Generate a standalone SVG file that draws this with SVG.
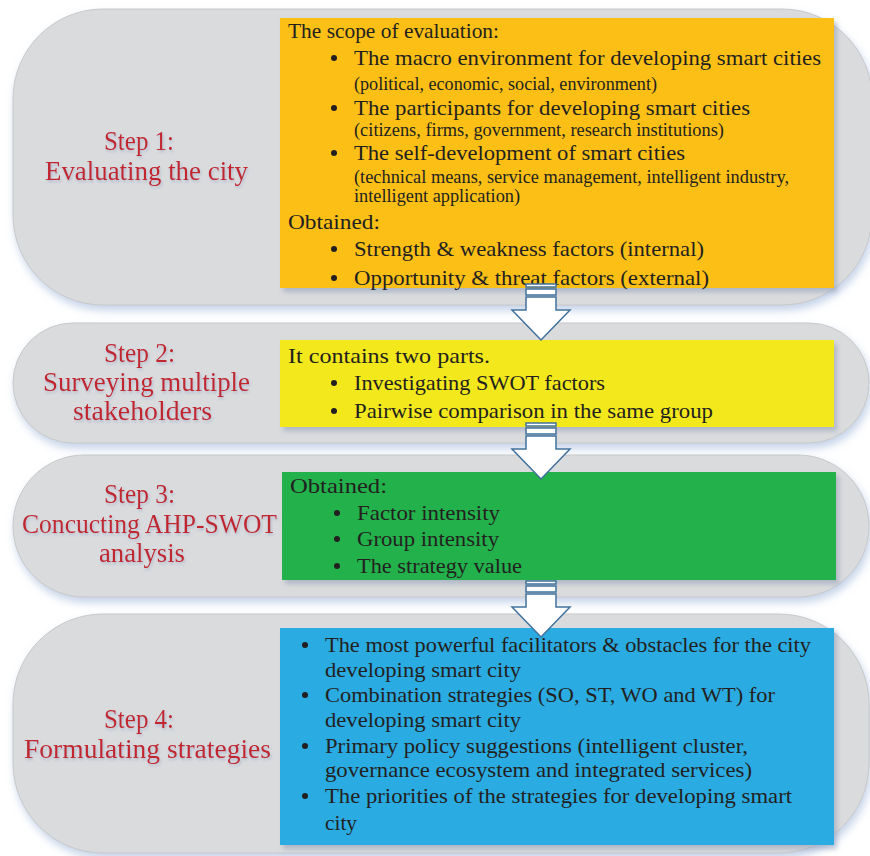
<svg xmlns="http://www.w3.org/2000/svg" width="870" height="856" viewBox="0 0 870 856">
<defs>
<filter id="pshadow" x="-5%" y="-10%" width="110%" height="125%">
<feDropShadow dx="2" dy="5" stdDeviation="4" flood-color="#9fb6da" flood-opacity="0.6"/>
</filter>
<filter id="bshadow" x="-5%" y="-5%" width="110%" height="115%">
<feDropShadow dx="3" dy="4" stdDeviation="2.5" flood-color="#8a9ab5" flood-opacity="0.55"/>
</filter>
<filter id="tshadow" x="-10%" y="-20%" width="120%" height="150%">
<feDropShadow dx="1" dy="2" stdDeviation="1.5" flood-color="#8fa2c4" flood-opacity="0.6"/>
</filter>
<g id="arrow">
<rect x="526" y="0" width="30" height="3" class="arr"/>
<rect x="526" y="5" width="30" height="6" class="arr"/>
<path d="M526,13 H556 V26 H570 L541,56 L512,26 H526 Z" class="arr"/>
</g>
</defs>
<style>
.panel{fill:#dadbdd;stroke:#c7c8ca;stroke-width:1;filter:url(#pshadow)}
.box{filter:url(#bshadow)}
.lbl{font-family:"Liberation Serif","Times New Roman",serif;font-size:27px;fill:#c1272d;filter:url(#tshadow)}
.t{font-family:"Liberation Serif","Times New Roman",serif;font-size:22px;fill:#231f20}
.s{font-family:"Liberation Serif","Times New Roman",serif;font-size:18px;fill:#231f20}
.b{font-family:"Liberation Serif","Times New Roman",serif;font-size:22px;fill:#231f20}
.arr{fill:#ffffff;stroke:#41719c;stroke-width:1.5;stroke-linejoin:miter}
</style>

<g id="step1">
<rect class="panel" x="13" y="9" width="859" height="296" rx="90" ry="90"/>
<text class="lbl" x="104" y="150" textLength="70" lengthAdjust="spacingAndGlyphs">Step 1:</text>
<text class="lbl" x="45" y="180" textLength="203" lengthAdjust="spacingAndGlyphs">Evaluating the city</text>
<rect class="box" x="280" y="18" width="554" height="270" fill="#fbbf12"/>
<text class="t" x="288" y="38" textLength="211" lengthAdjust="spacingAndGlyphs">The scope of evaluation:</text>
<circle cx="334" cy="58" r="3" fill="#231f20"/>
<text class="t" x="354" y="65" textLength="467" lengthAdjust="spacingAndGlyphs">The macro environment for developing smart cities</text>
<text class="s" x="354" y="90" textLength="303" lengthAdjust="spacingAndGlyphs">(political, economic, social, environment)</text>
<circle cx="334" cy="108" r="3" fill="#231f20"/>
<text class="t" x="354" y="115" textLength="396" lengthAdjust="spacingAndGlyphs">The participants for developing smart cities</text>
<text class="s" x="354" y="136" textLength="370" lengthAdjust="spacingAndGlyphs">(citizens, firms, government, research institutions)</text>
<circle cx="334" cy="153" r="3" fill="#231f20"/>
<text class="t" x="354" y="160" textLength="331" lengthAdjust="spacingAndGlyphs">The self-development of smart cities</text>
<text class="s" x="354" y="183" textLength="435" lengthAdjust="spacingAndGlyphs">(technical means, service management, intelligent industry,</text>
<text class="s" x="354" y="202" textLength="166" lengthAdjust="spacingAndGlyphs">intelligent application)</text>
<text class="t" x="288" y="229" textLength="92" lengthAdjust="spacingAndGlyphs">Obtained:</text>
<circle cx="334" cy="249" r="3" fill="#231f20"/>
<text class="t" x="354" y="256" textLength="350" lengthAdjust="spacingAndGlyphs">Strength &amp; weakness factors (internal)</text>
<circle cx="334" cy="278" r="3" fill="#231f20"/>
<text class="t" x="354" y="285" textLength="355" lengthAdjust="spacingAndGlyphs">Opportunity &amp; threat factors (external)</text>
</g>

<g id="step2">
<rect class="panel" x="13" y="323" width="856" height="120" rx="60" ry="60"/>
<text class="lbl" x="104" y="362" textLength="71" lengthAdjust="spacingAndGlyphs">Step 2:</text>
<text class="lbl" x="43" y="391" textLength="207" lengthAdjust="spacingAndGlyphs">Surveying multiple</text>
<text class="lbl" x="73" y="420" textLength="139" lengthAdjust="spacingAndGlyphs">stakeholders</text>
<rect class="box" x="280" y="340" width="554" height="87" fill="#f2e81a"/>
<text class="t" x="288" y="363" textLength="202" lengthAdjust="spacingAndGlyphs">It contains two parts.</text>
<circle cx="334" cy="383" r="3" fill="#231f20"/>
<text class="t" x="354" y="390" textLength="251" lengthAdjust="spacingAndGlyphs">Investigating SWOT factors</text>
<circle cx="334" cy="411" r="3" fill="#231f20"/>
<text class="t" x="354" y="418" textLength="359" lengthAdjust="spacingAndGlyphs">Pairwise comparison in the same group</text>
</g>

<g id="step3">
<rect class="panel" x="13" y="455" width="856" height="142" rx="71" ry="71"/>
<text class="lbl" x="104" y="503" textLength="71" lengthAdjust="spacingAndGlyphs">Step 3:</text>
<text class="lbl" x="22" y="533" textLength="255" lengthAdjust="spacingAndGlyphs">Concucting AHP-SWOT</text>
<text class="lbl" x="99" y="562" textLength="86" lengthAdjust="spacingAndGlyphs">analysis</text>
<rect class="box" x="282" y="472" width="554" height="108" fill="#21b14c"/>
<text class="t" x="290" y="493" textLength="97" lengthAdjust="spacingAndGlyphs">Obtained:</text>
<circle cx="337" cy="513" r="3" fill="#231f20"/>
<text class="t" x="357" y="520" textLength="143" lengthAdjust="spacingAndGlyphs">Factor intensity</text>
<circle cx="337" cy="539" r="3" fill="#231f20"/>
<text class="t" x="357" y="546" textLength="142" lengthAdjust="spacingAndGlyphs">Group intensity</text>
<circle cx="337" cy="566" r="3" fill="#231f20"/>
<text class="t" x="357" y="573" textLength="165" lengthAdjust="spacingAndGlyphs">The strategy value</text>
</g>

<g id="step4">
<rect class="panel" x="13" y="614" width="856" height="239" rx="90" ry="90"/>
<text class="lbl" x="104" y="728" textLength="70" lengthAdjust="spacingAndGlyphs">Step 4:</text>
<text class="lbl" x="24" y="758" textLength="247" lengthAdjust="spacingAndGlyphs">Formulating strategies</text>
<rect class="box" x="280" y="628" width="554" height="217" fill="#29abe2"/>
<circle cx="305" cy="645" r="3" fill="#231f20"/>
<text class="t" x="325" y="652" textLength="486" lengthAdjust="spacingAndGlyphs">The most powerful facilitators &amp; obstacles for the city</text>
<text class="t" x="325" y="677" textLength="196" lengthAdjust="spacingAndGlyphs">developing smart city</text>
<circle cx="305" cy="695" r="3" fill="#231f20"/>
<text class="t" x="325" y="702" textLength="450" lengthAdjust="spacingAndGlyphs">Combination strategies (SO, ST, WO and WT) for</text>
<text class="t" x="325" y="727" textLength="196" lengthAdjust="spacingAndGlyphs">developing smart city</text>
<circle cx="305" cy="746" r="3" fill="#231f20"/>
<text class="t" x="325" y="753" textLength="423" lengthAdjust="spacingAndGlyphs">Primary policy suggestions (intelligent cluster,</text>
<text class="t" x="325" y="777" textLength="427" lengthAdjust="spacingAndGlyphs">governance ecosystem and integrated services)</text>
<circle cx="305" cy="796" r="3" fill="#231f20"/>
<text class="t" x="325" y="803" textLength="467" lengthAdjust="spacingAndGlyphs">The priorities of the strategies for developing smart</text>
<text class="t" x="325" y="830" textLength="32" lengthAdjust="spacingAndGlyphs">city</text>
</g>

<g id="connectors">
<use href="#arrow" transform="translate(0,284)"/>
<use href="#arrow" transform="translate(0,423)"/>
<use href="#arrow" transform="translate(0,581)"/>
</g>
</svg>
